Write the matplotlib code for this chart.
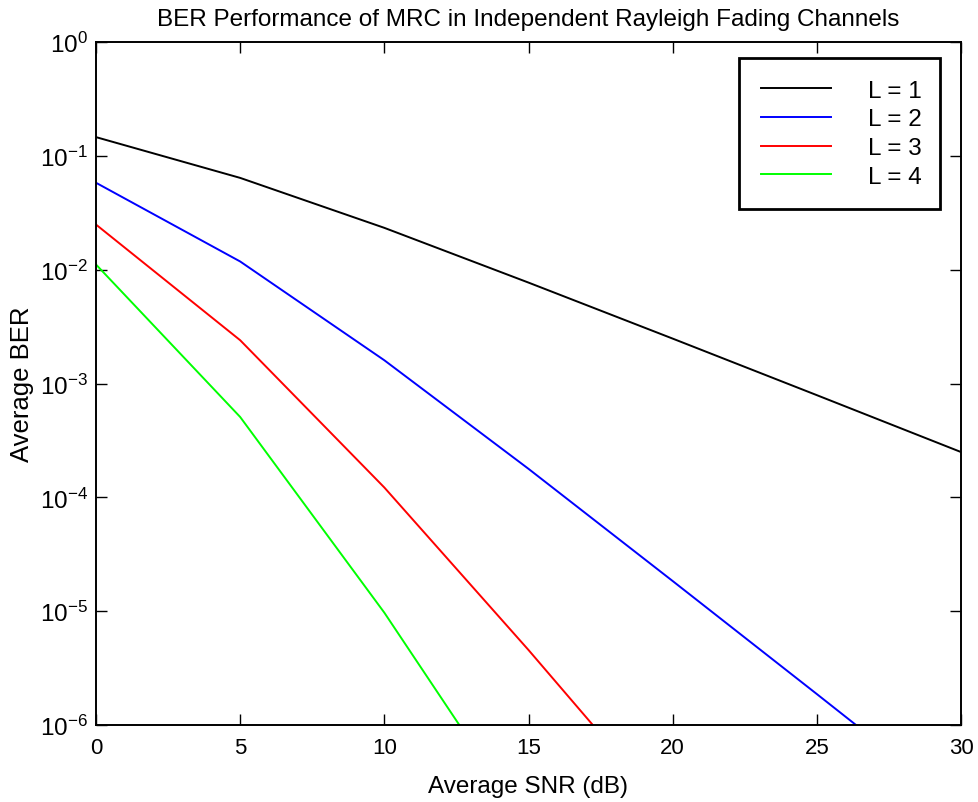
import matplotlib.pyplot as plt
from matplotlib.ticker import NullLocator

plt.rcParams['font.family'] = ['Liberation Sans', 'DejaVu Sans']
plt.rcParams['mathtext.fontset'] = 'custom'
plt.rcParams['mathtext.rm'] = 'Liberation Sans'

# 平均信噪比 (dB)
snr_db = [0, 5, 10, 15, 20, 25, 30]

# 各分集支路数下的平均误码率
ber_L1 = [0.146, 0.064, 0.0233, 0.0077, 0.00248, 0.00079, 0.00025]
ber_L2 = [0.058, 0.0118, 0.0016, 0.000178, 1.84e-5, 1.87e-6, 1.87e-7]
ber_L3 = [0.0249, 0.0024, 0.000122, 4.56e-6, 1.52e-7, 5e-9, 1.6e-10]
ber_L4 = [0.0111, 0.000508, 9.7e-6, 1.23e-7, 1.3e-9, 1.3e-11, 1.3e-13]

labels = ['L = 1', 'L = 2', 'L = 3', 'L = 4']
colors = ['black', 'blue', 'red', '#00ff00']
y_ticks = [1e-6, 1e-5, 1e-4, 1e-3, 1e-2, 1e-1, 1]

fig = plt.figure(figsize=(9.79, 8.03), dpi=100)
ax = fig.add_axes([96 / 979, 1 - 726 / 803, 865 / 979, 683 / 803])

for ber, lab, c in zip([ber_L1, ber_L2, ber_L3, ber_L4], labels, colors):
    ax.semilogy(snr_db, ber, color=c, linewidth=1.4, label=lab)

ax.set_xlim(0, 30)
ax.set_ylim(1e-6, 1)
ax.set_xticks([0, 5, 10, 15, 20, 25, 30])
ax.set_yticks(y_ticks)
ax.yaxis.set_minor_locator(NullLocator())

ax.tick_params(direction='in', length=8, width=1, top=True, right=True)
ax.tick_params(axis='x', labelsize=16, pad=9)
ax.tick_params(axis='y', labelsize=17.5, pad=6)
for s in ax.spines.values():
    s.set_linewidth(1.4)

ax.set_title('BER Performance of MRC in Independent Rayleigh Fading Channels', fontsize=17.5, pad=12)
ax.set_xlabel('Average SNR (dB)', fontsize=17.5, labelpad=12)
ax.set_ylabel('Average BER', fontsize=18.5, labelpad=4)

# 图例框按固定位置展开
leg = ax.legend(loc='upper left', bbox_to_anchor=(739 / 979, 1 - 209 / 803, 201 / 979, 150 / 803),
                bbox_transform=fig.transFigure, mode='expand', fontsize=17.5, frameon=True,
                fancybox=False, edgecolor='black', borderpad=0.9,
                handlelength=2.9, handletextpad=1.5, labelspacing=0.27,
                borderaxespad=0)
leg.get_frame().set_linewidth(2)
leg.get_frame().set_alpha(1)

fig.savefig('out.png', dpi=100)
